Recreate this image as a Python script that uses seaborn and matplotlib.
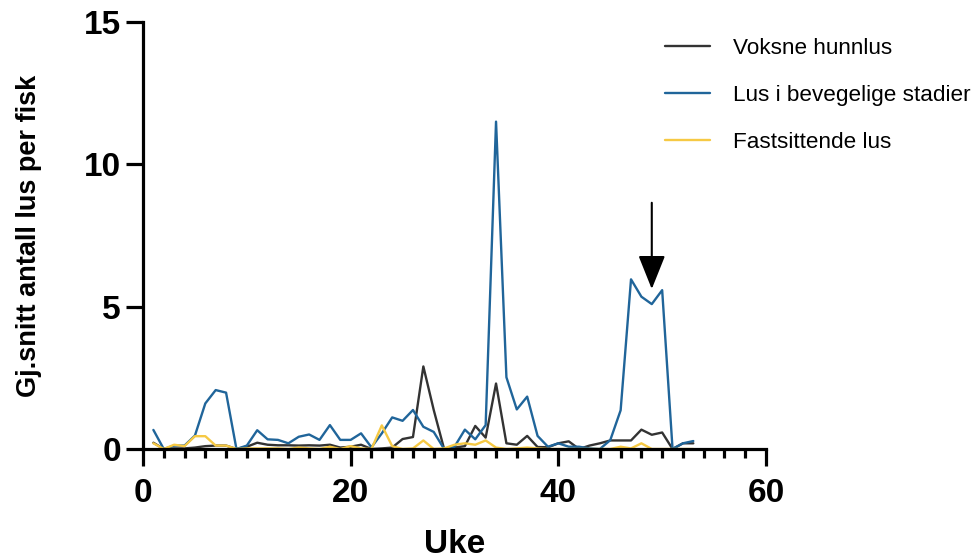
import numpy as np
import pandas as pd
import matplotlib
matplotlib.use("Agg")
import matplotlib.pyplot as plt
import seaborn as sns
from matplotlib.ticker import MultipleLocator
from matplotlib import font_manager as fm

weeks = list(range(1, 54))
adult_females = [0.22, 0.0, 0.02, 0.02, 0.05, 0.1, 0.12, 0.12, 0.0, 0.08,
                 0.22, 0.15, 0.13, 0.13, 0.12, 0.13, 0.12, 0.15, 0.05, 0.08,
                 0.15, 0.0, 0.02, 0.05, 0.35, 0.42, 2.9, 1.37, 0.0, 0.05,
                 0.1, 0.81, 0.4, 2.3, 0.2, 0.15, 0.46, 0.07, 0.06, 0.2,
                 0.27, 0.0, 0.12, 0.2, 0.3, 0.3, 0.3, 0.68, 0.5, 0.58,
                 0.0, 0.2, 0.2]
mobile = [0.67, 0.0, 0.12, 0.12, 0.47, 1.6, 2.07, 1.98, 0.0, 0.12,
          0.66, 0.34, 0.32, 0.2, 0.43, 0.51, 0.32, 0.84, 0.32, 0.32,
          0.55, 0.06, 0.55, 1.11, 0.99, 1.37, 0.78, 0.6, 0.0, 0.08,
          0.68, 0.34, 0.84, 11.5, 2.52, 1.39, 1.84, 0.46, 0.08, 0.2,
          0.08, 0.08, 0.02, 0.0, 0.31, 1.36, 5.96, 5.35, 5.09, 5.58,
          0.0, 0.2, 0.28]
sessile = [0.2, 0.0, 0.15, 0.1, 0.45, 0.45, 0.12, 0.12, 0.0, 0.02,
           0.02, 0.02, 0.02, 0.0, 0.05, 0.02, 0.0, 0.08, 0.0, 0.1,
           0.02, 0.0, 0.83, 0.1, 0.0, 0.02, 0.3, 0.0, 0.02, 0.15,
           0.2, 0.15, 0.3, 0.05, 0.0, 0.02, 0.05, 0.02, 0.0, 0.0,
           0.0, 0.0, 0.0, 0.0, 0.0, 0.08, 0.02, 0.2, 0.0, 0.0,
           0.0, 0.0, 0.0]
series_names = ["Voksne hunnlus", "Lus i bevegelige stadier", "Fastsittende lus"]
colors = ["#333333", "#20659a", "#f6c944"]
arrow_week = 49
arrow_from = 8.65
arrow_to = 5.62

df = pd.concat([
    pd.DataFrame({"Uke": weeks, "verdi": vals, "serie": name})
    for name, vals in zip(series_names, [adult_females, mobile, sessile])
])

sns.set_theme(style="ticks")
plt.rcParams["font.family"] = ["Liberation Sans", "DejaVu Sans"]
for k in ["text.color", "axes.labelcolor", "xtick.color", "ytick.color", "axes.edgecolor"]:
    plt.rcParams[k] = "black"


def find_font(bold):
    for f in fm.fontManager.ttflist:
        if f.name == "Liberation Sans" and "Narrow" not in f.fname:
            w = f.weight if isinstance(f.weight, int) else (700 if f.weight == "bold" else 400)
            if (w >= 600) == bold and f.style == "normal":
                return fm.FontProperties(fname=f.fname)
    return fm.FontProperties(family="Liberation Sans", weight="bold" if bold else "normal")


fp_bold = find_font(True)
fp_reg = find_font(False)

fig = plt.figure(figsize=(9.73, 5.58), dpi=100)
ax = fig.add_axes([143/973, 1-449/558, (766-143)/973, (449-22)/558])

sns.lineplot(data=df, x="Uke", y="verdi", hue="serie", hue_order=series_names,
             palette=colors, linewidth=1.7, ax=ax, legend=True)
for ln in ax.lines:
    ln.set_clip_on(False)

ax.set_xlim(0, 60)
ax.set_ylim(0, 15)
ax.xaxis.set_major_locator(MultipleLocator(20))
ax.xaxis.set_minor_locator(MultipleLocator(2))
ax.yaxis.set_major_locator(MultipleLocator(5))
sns.despine(ax=ax)
for s in ["left", "bottom"]:
    ax.spines[s].set_linewidth(2.3)
    ax.spines[s].set_color("black")
ax.tick_params(axis="both", which="major", length=12, width=2.3, color="black")
ax.tick_params(axis="x", which="major", pad=9)
ax.tick_params(axis="y", which="major", pad=4)
ax.tick_params(axis="x", which="minor", length=6.5, width=2.3, color="black")
fig.canvas.draw()
for lab in ax.get_xticklabels() + ax.get_yticklabels():
    lab.set_fontproperties(fp_bold)
    lab.set_fontsize(24)
ax.set_xlabel("Uke", fontproperties=fp_bold, fontsize=24, labelpad=14)
ax.set_ylabel("Gj.snitt antall lus per fisk", fontproperties=fp_bold, fontsize=19.5, labelpad=30)

ax.annotate("", xy=(arrow_week, arrow_to), xytext=(arrow_week, arrow_from),
            arrowprops=dict(arrowstyle="-|>,head_length=0.75,head_width=0.3",
                            color="black", lw=1.5, mutation_scale=28,
                            shrinkA=0, shrinkB=0))

handles, labels = ax.get_legend_handles_labels()
leg_fp = fp_reg.copy()
leg_fp.set_size(16.2)
ax.legend(handles, labels, loc="upper left", bbox_to_anchor=(645/973, 1-18/558),
          bbox_transform=fig.transFigure, frameon=False, prop=leg_fp,
          handlelength=2.0, labelspacing=1.15, handletextpad=1.0)

fig.savefig("out.png", dpi=100)
